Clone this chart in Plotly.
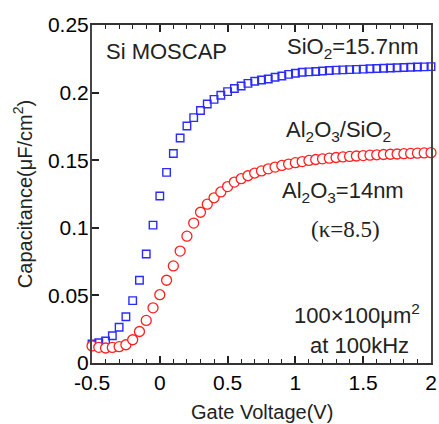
import plotly.graph_objects as go

# Gate voltage grid (V)
voltage = [-0.5, -0.45, -0.4, -0.35, -0.3, -0.25, -0.2, -0.15, -0.1, -0.05,
           0.0, 0.05, 0.1, 0.15, 0.2, 0.25, 0.3, 0.35, 0.4, 0.45,
           0.5, 0.55, 0.6, 0.65, 0.7, 0.75, 0.8, 0.85, 0.9, 0.95,
           1.0, 1.05, 1.1, 1.15, 1.2, 1.25, 1.3, 1.35, 1.4, 1.45,
           1.5, 1.55, 1.6, 1.65, 1.7, 1.75, 1.8, 1.85, 1.9, 1.95, 2.0]

# SiO2 = 15.7 nm (blue squares), uF/cm^2
cap_sio2 = [0.0140, 0.0150, 0.0163, 0.0202, 0.0264, 0.0342, 0.0461, 0.0612, 0.0806, 0.1020,
            0.1235, 0.1410, 0.1550, 0.1664, 0.1753, 0.1815, 0.1868, 0.1916, 0.1950, 0.1980,
            0.2007, 0.2030, 0.2049, 0.2068, 0.2084, 0.2093, 0.2101, 0.2113, 0.2123, 0.2135,
            0.2143, 0.2150, 0.2153, 0.2156, 0.2160, 0.2163, 0.2166, 0.2168, 0.2170, 0.2172,
            0.2174, 0.2176, 0.2178, 0.2180, 0.2182, 0.2184, 0.2186, 0.2188, 0.2189, 0.2190, 0.2192]

# Al2O3/SiO2 (red circles), uF/cm^2
cap_al2o3 = [0.0126, 0.0116, 0.0111, 0.0115, 0.0121, 0.0135, 0.0172, 0.0233, 0.0315, 0.0408,
             0.0505, 0.0612, 0.0718, 0.0828, 0.0938, 0.1035, 0.1115, 0.1175, 0.1222, 0.1265,
             0.1305, 0.1338, 0.1363, 0.1385, 0.1405, 0.1421, 0.1436, 0.1449, 0.1461, 0.1471,
             0.1482, 0.1490, 0.1498, 0.1505, 0.1510, 0.1515, 0.1520, 0.1524, 0.1528, 0.1531,
             0.1534, 0.1537, 0.1540, 0.1542, 0.1544, 0.1546, 0.1548, 0.1550, 0.1552, 0.1554, 0.1556]

x_tickvals = [-0.5, 0, 0.5, 1, 1.5, 2]
x_ticktext = ["-0.5", "0", "0.5", "1", "1.5", "2"]
y_tickvals = [0, 0.05, 0.1, 0.15, 0.2, 0.25]
y_ticktext = ["0", "0.05", "0.1", "0.15", "0.2", "0.25"]

FONT = "Liberation Sans, Arial, sans-serif"
TXT = "#222222"

fig = go.Figure()
fig.add_trace(go.Scatter(
    x=voltage, y=cap_sio2, mode="markers", cliponaxis=False,
    marker=dict(symbol="square-open", size=7.5, color="#2b2bff",
                line=dict(color="#2b2bff", width=1.4)),
    showlegend=False))
fig.add_trace(go.Scatter(
    x=voltage, y=cap_al2o3, mode="markers", cliponaxis=False,
    marker=dict(symbol="circle", size=10, color="white",
                line=dict(color="#ff2020", width=1.3)),
    showlegend=False))

def ann(text, x, y, xanchor="center", size=22, family=FONT):
    fig.add_annotation(x=x, y=y, xref="x", yref="y", text=text, showarrow=False,
                       xanchor=xanchor, yanchor="middle",
                       font=dict(family=family, size=size, color=TXT))

ann("Si MOSCAP", -0.415, 0.2305, xanchor="left")
ann("SiO<sub>2</sub>=15.7nm", 1.92, 0.2330, xanchor="right")
ann("Al<sub>2</sub>O<sub>3</sub>/SiO<sub>2</sub>", 1.32, 0.1718)
ann("Al<sub>2</sub>O<sub>3</sub>=14nm", 1.353, 0.1262)
ann("(κ=8.5)", 1.368, 0.0984, family="Liberation Serif, Times New Roman, serif", size=23)
ann("100×100μm<sup>2</sup>", 1.452, 0.0365)
ann("at 100kHz", 1.47, 0.0126)

# axis titles placed as paper annotations (fixed margins)
fig.add_annotation(x=0.5, y=-0.145, xref="paper", yref="paper", text="Gate Voltage(V)",
                   showarrow=False, xanchor="center", yanchor="middle",
                   font=dict(family=FONT, size=20, color=TXT))
fig.add_annotation(x=-0.206, y=0.5, xref="paper", yref="paper",
                   text="Capacitance(μF/cm<sup>2</sup>)", textangle=-90,
                   showarrow=False, xanchor="center", yanchor="middle",
                   font=dict(family=FONT, size=20, color=TXT))

fig.update_layout(
    width=439, height=424,
    margin=dict(l=92, r=8, t=25, b=61, autoexpand=False),
    paper_bgcolor="white", plot_bgcolor="white",
    font=dict(family=FONT, size=20, color="black"),
    xaxis=dict(range=[-0.5, 2], tickvals=x_tickvals, ticktext=x_ticktext,
               ticks="inside", ticklen=7, tickwidth=1.5, tickcolor="#222",
               minor=dict(dtick=0.1, ticks="inside", ticklen=4, tickwidth=1, tickcolor="#222"),
               showline=True, linecolor="#333", linewidth=2, mirror="ticks",
               showgrid=False, zeroline=False, automargin=False,
               tickfont=dict(size=21, family=FONT, color="black"),
               ticklabelstandoff=0),
    yaxis=dict(range=[0, 0.25], tickvals=y_tickvals, ticktext=y_ticktext,
               ticks="inside", ticklen=7, tickwidth=1.5, tickcolor="#222",
               showline=True, linecolor="#444", linewidth=2, mirror=True,
               showgrid=False, zeroline=False, automargin=False,
               tickfont=dict(size=21, family=FONT, color="black"),
               ticklabelstandoff=-3),
)

fig.write_html("out.html", post_script="document.body.style.margin='0';",
               config={"displayModeBar": False})
